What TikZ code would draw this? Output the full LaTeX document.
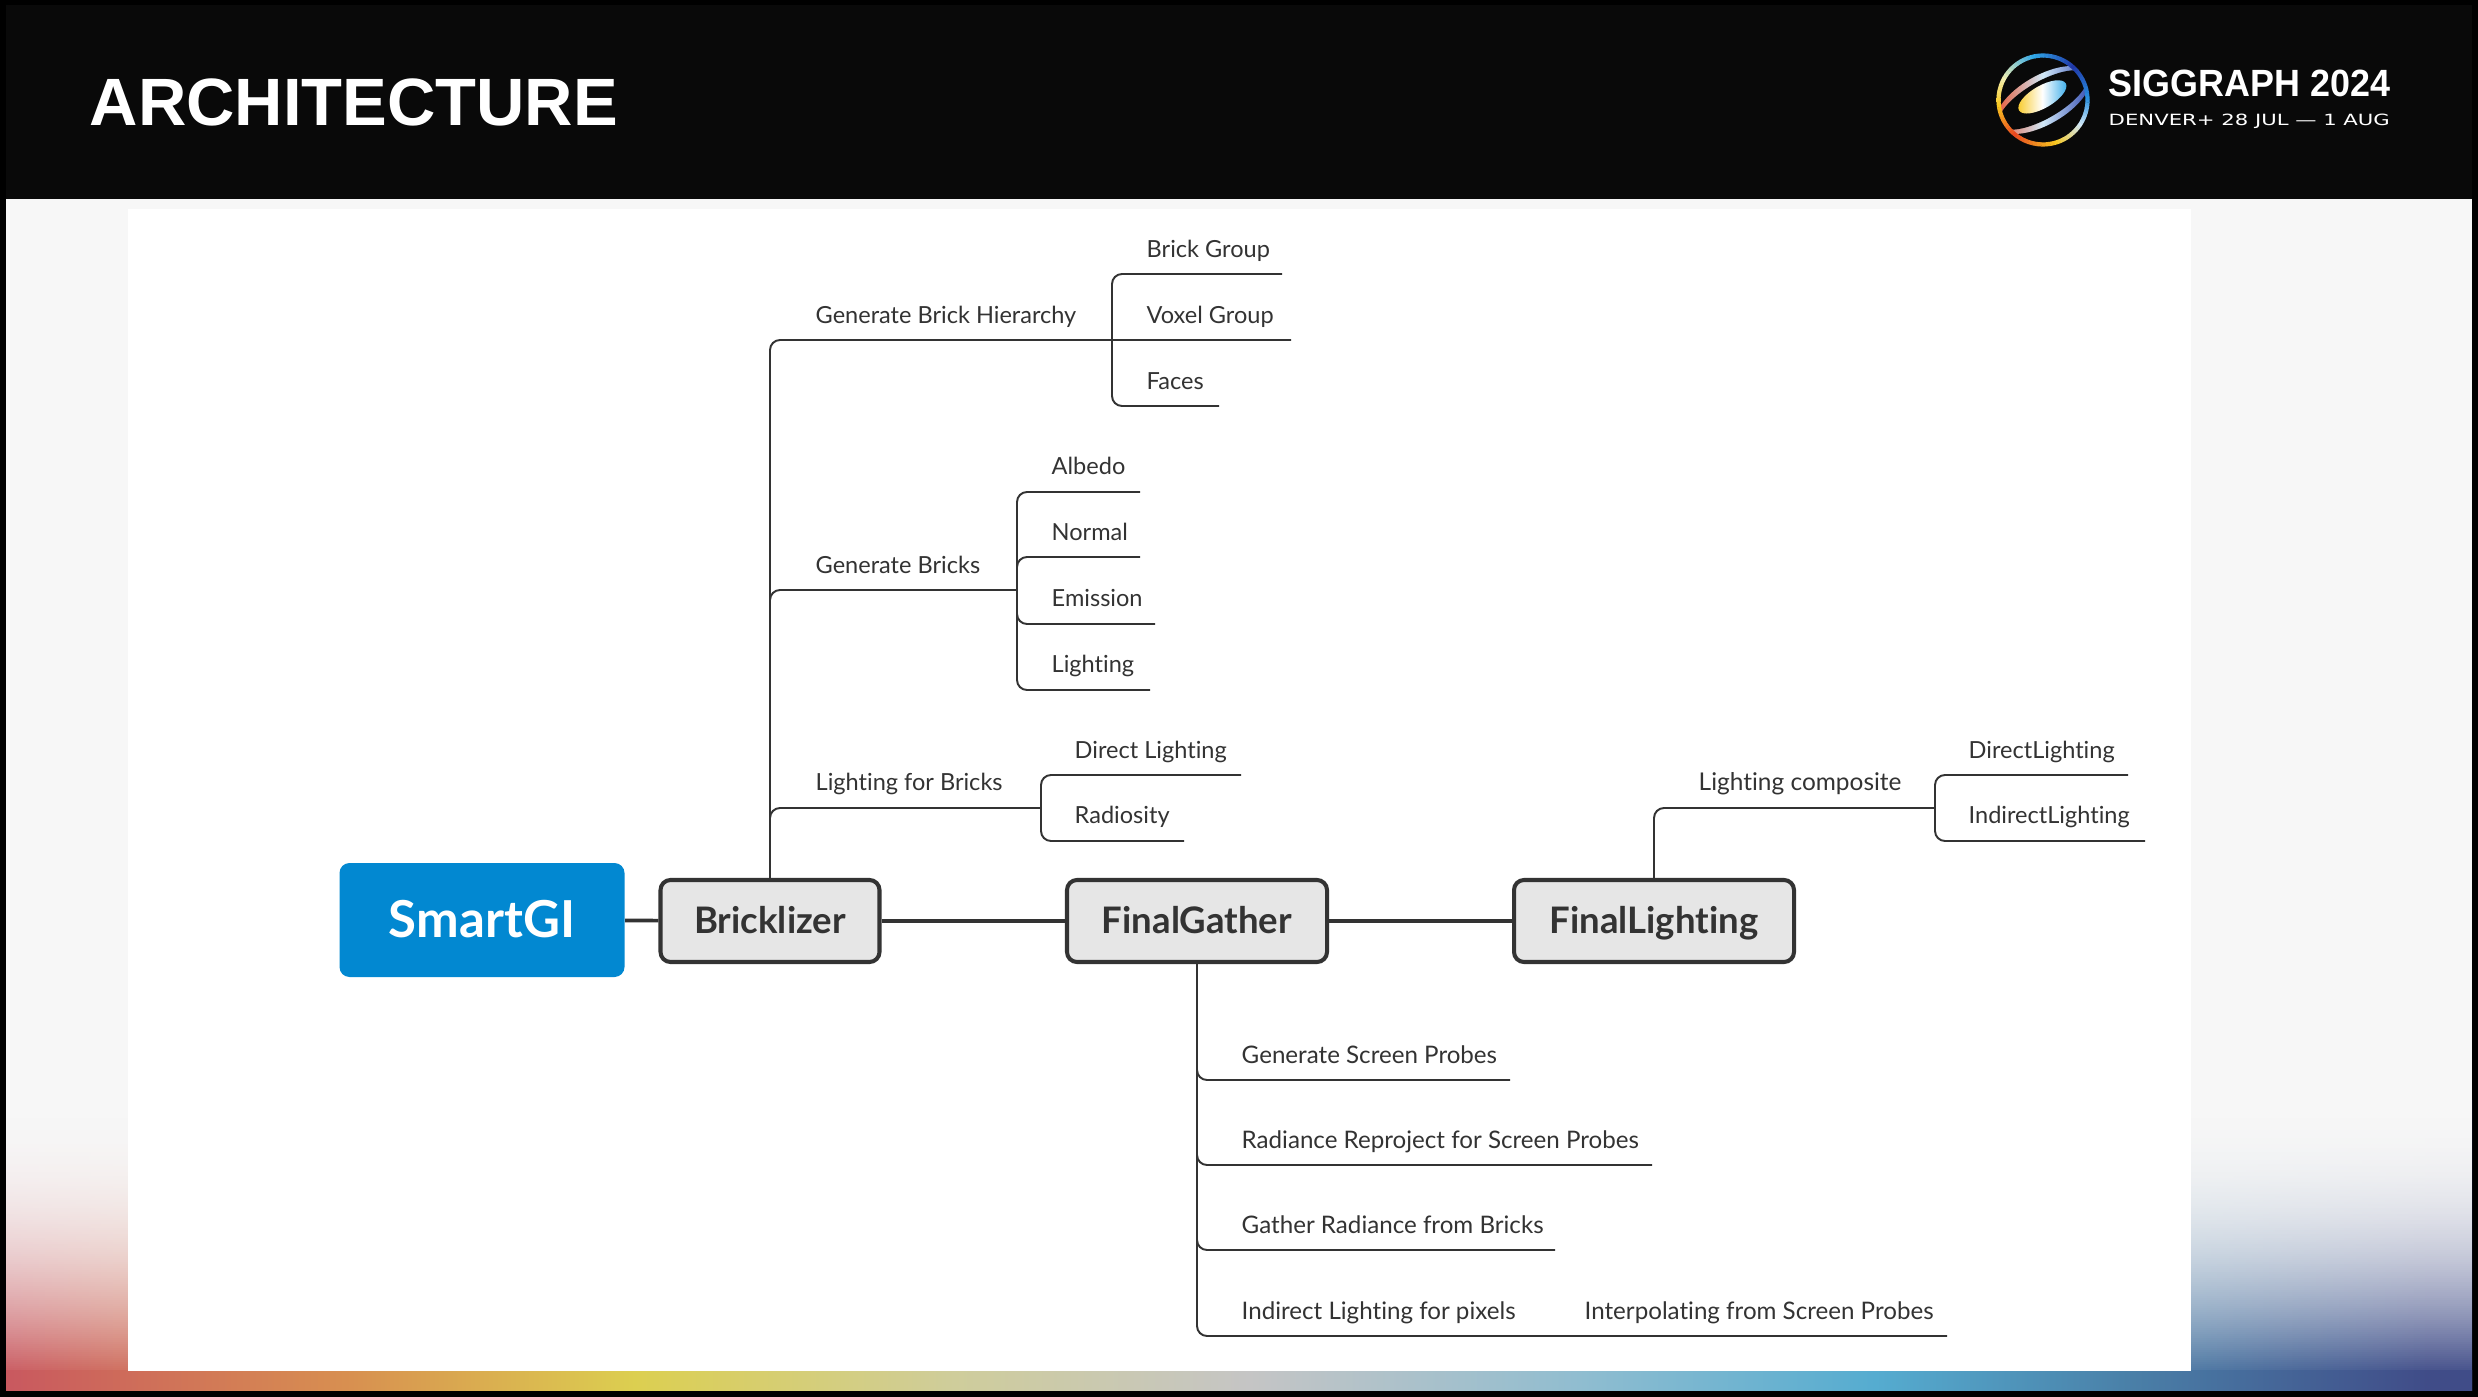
\documentclass[tikz,border=0pt]{standalone}
\usepackage{fontspec}
\usepackage{graphicx}
\setmainfont{Lato}[Ligatures=NoCommon]
\newfontfamily\headfont{Liberation Sans}
\newfontfamily\subfont{DejaVu Sans}
\definecolor{ink}{HTML}{333333}
\definecolor{sg}{HTML}{0288D1}
\definecolor{boxfill}{HTML}{E6E6E6}
\definecolor{paper}{HTML}{F7F7F7}
\definecolor{headbg}{HTML}{090909}
\definecolor{c0}{HTML}{C9595F}\definecolor{c1}{HTML}{D89050}\definecolor{c2}{HTML}{DCCF50}
\definecolor{c3}{HTML}{CFCD9A}\definecolor{c4}{HTML}{C5C5C5}\definecolor{c5}{HTML}{90BDD0}
\definecolor{c6}{HTML}{55ACD0}\definecolor{c7}{HTML}{4A80A8}\definecolor{c8}{HTML}{404C88}
\definecolor{lgblue}{HTML}{2038A8}\definecolor{lgcyan}{HTML}{30A8E8}\definecolor{lgpale}{HTML}{F4F0B0}
\definecolor{lgyel}{HTML}{F8C820}\definecolor{lgred}{HTML}{E84820}\definecolor{lgice}{HTML}{D0E8F8}
\definecolor{lgsky}{HTML}{2890E0}
\pgfdeclarehorizontalshading{stripshade}{100bp}{
 color(0bp)=(c0); color(25.1bp)=(c0); color(32bp)=(c1); color(37.75bp)=(c2);
 color(44.1bp)=(c3); color(50.2bp)=(c4); color(56.9bp)=(c5); color(62.9bp)=(c6);
 color(68bp)=(c7); color(74.1bp)=(c8); color(100bp)=(c8)}
\tikzset{
 thinline/.style={draw=ink,line width=0.55pt,rounded corners=1mm},
 mainline/.style={draw=ink,line width=1.05pt},
 topicbox/.style={draw=ink,fill=boxfill,line width=1.15pt,rounded corners=1mm,minimum height=8.2mm,inner sep=0pt,text=ink,text height=2.5mm,text depth=0mm,font=\fontsize{10.4pt}{12pt}\selectfont\bfseries},
 rootbox/.style={fill=sg,rounded corners=1mm,minimum height=11.4mm,minimum width=28.5mm,inner sep=0pt,text=white,text height=3.4mm,text depth=0mm,font=\fontsize{14.5pt}{16pt}\selectfont\bfseries},
 leaf/.style={anchor=base west,inner sep=0pt,yshift=-0.1mm,text=ink,font=\fontsize{6.7pt}{8pt}\selectfont},
 leafwide/.style={leaf,font=\fontsize{6.87pt}{8pt}\selectfont}
}
\begin{document}
\begin{tikzpicture}[x=0.1mm,y=-0.1mm]
\useasboundingbox (0,0) rectangle (2478,1397);
\fill[black] (0,0) rectangle (2478,1397);
\fill[headbg] (6,5) rectangle (2472,199);
\fill[paper] (6,199) rectangle (2472,1390);
% bottom colour band, with side panels fading upward
\shade[shading=stripshade] (6,1100) rectangle (2472,1390);
\foreach \yy in {1100,1102,...,1368}{
 \pgfmathsetmacro\tt{(\yy-1100)/275}
 \pgfmathsetmacro\op{1-pow(\tt,2.3)}
 \fill[paper,fill opacity=\op] (6,\yy) rectangle (2472,\yy+2);
}
\shade[shading=stripshade] (6,1370) rectangle (2472,1390);
\fill[white] (128,209) rectangle (2191,1371);
% header
\node[anchor=base west,inner sep=0pt,text=white,font=\headfont\bfseries\fontsize{19.05pt}{22pt}\selectfont] (title) at (89,126) {ARCHITECTURE};
\node[anchor=base west,inner sep=0pt,text=white,font=\headfont\bfseries\fontsize{10.8pt}{13pt}\selectfont] (sgtext) at (2108,97) {\scalebox{0.946}[1]{SIGGRAPH 2024}};
\node[anchor=base west,inner sep=0pt,text=white,font=\subfont\fontsize{4.4pt}{6pt}\selectfont] (dntext) at (2108,126) {\scalebox{1.37}[1]{DENVER+ 28 JUL — 1 AUG}};
% logo
\begin{scope}[shift={(2043,100)},x=0.1mm,y=0.1mm]
\clip (0,0) circle (4.4mm);
\begin{scope}[rotate=30]
\shade[left color=lgred,right color=lgblue,middle color=lgice] (0,0) ellipse (5.3mm and 2.45mm);
\fill[headbg] (0,0) ellipse (5.0mm and 1.85mm);
\shade[left color=lgyel,right color=lgcyan,middle color=white] (1,0.3mm) ellipse (2.7mm and 1.12mm);
\end{scope}
\end{scope}
\begin{scope}[shift={(2043,100)},x=0.1mm,y=0.1mm]
\foreach \a/\b/\ca/\cb in {45/100/lgblue/lgcyan,100/150/lgcyan/lgpale,150/185/lgpale/lgyel,185/228/lgyel/lgred,228/285/lgred/lgyel,285/325/lgyel/lgice,325/360/lgice/lgsky,360/405/lgsky/lgblue}{
 \foreach \t in {0,10,...,90}{
  \pgfmathsetmacro\an{\a+(\b-\a)*\t/100}
  \pgfmathsetmacro\st{(\b-\a)/10+0.5}
  \draw[line width=1.2pt,draw={\cb!\t!\ca}] (\an:4.45mm) arc[start angle=\an,delta angle=\st,radius=4.45mm];
 }
}
\end{scope}
% diagram nodes
\node[rootbox] (root) at (482,920) {SmartGI};
\node[topicbox,minimum width=21.9mm] (brick) at (770,921) {Bricklizer};
\node[topicbox,minimum width=26mm] (gather) at (1197,921) {FinalGather};
\node[topicbox,minimum width=28mm] (final) at (1654,921) {FinalLighting};
\draw[mainline] (root) -- (brick);
\draw[mainline] (brick) -- (gather);
\draw[mainline] (gather) -- (final);
% Bricklizer branches
\coordinate (hubA) at (1112,340);\coordinate (hubB) at (1017,590);\coordinate (hubC) at (1041,808);
\coordinate (eA1) at (1282,274);\coordinate (eA2) at (1291,340);\coordinate (eA3) at (1219,406);
\coordinate (eB1) at (1140,492);\coordinate (eB2) at (1140,557);\coordinate (eB3) at (1155,624);\coordinate (eB4) at (1150,690);
\coordinate (eC1) at (1241,775);\coordinate (eC2) at (1184,841);
\draw[thinline] (brick.north) |- (eA2);
\draw[thinline] (brick.north) |- (hubB);
\draw[thinline] (brick.north) |- (hubC);
\draw[thinline] (hubA) |- (eA1);
\draw[thinline] (hubA) |- (eA3);
\draw[thinline] (hubB) |- (eB1);
\draw[thinline] (hubB) |- (eB2);
\draw[thinline] (hubB) |- (eB3);
\draw[thinline] (hubB) |- (eB4);
\draw[thinline] (hubC) |- (eC1);
\draw[thinline] (hubC) |- (eC2);
\node[leaf] (lA) at (815,323) {Generate Brick Hierarchy};
\node[leaf] (lB) at (815,573) {Generate Bricks};
\node[leaf] (lC) at (815,790) {Lighting for Bricks};
\node[leaf] (lA1) at (1146,257) {Brick Group};
\node[leaf] (lA2) at (1146,323) {Voxel Group};
\node[leaf] (lA3) at (1146,389) {Faces};
\node[leaf] (lB1) at (1051,474) {Albedo};
\node[leaf] (lB2) at (1051,540) {Normal};
\node[leaf] (lB3) at (1051,606) {Emission};
\node[leaf] (lB4) at (1051,672) {Lighting};
\node[leaf] (lC1) at (1074,758) {Direct Lighting};
\node[leaf] (lC2) at (1074,823) {Radiosity};
% FinalGather branches
\coordinate (eG1) at (1510,1080);\coordinate (eG2) at (1652,1165);\coordinate (eG3) at (1555,1250);\coordinate (eG4) at (1947,1336);
\draw[thinline] (gather.south) |- (eG1);
\draw[thinline] (gather.south) |- (eG2);
\draw[thinline] (gather.south) |- (eG3);
\draw[thinline] (gather.south) |- (eG4);
\node[leafwide] (g1) at (1241,1062) {Generate Screen Probes};
\node[leafwide] (g2) at (1241,1147) {Radiance Reproject for Screen Probes};
\node[leafwide] (g3) at (1241,1232) {Gather Radiance from Bricks};
\node[leafwide] (g4) at (1241,1318) {Indirect Lighting for pixels};
\node[leafwide] (g5) at (1584,1318) {Interpolating from Screen Probes};
% FinalLighting branches
\coordinate (hubF) at (1935,808);\coordinate (eF1) at (2128,775);\coordinate (eF2) at (2145,841);
\draw[thinline] (final.north) |- (hubF);
\draw[thinline] (hubF) |- (eF1);
\draw[thinline] (hubF) |- (eF2);
\node[leafwide,font=\fontsize{6.95pt}{8pt}\selectfont] (f0) at (1698,790) {Lighting composite};
\node[leaf] (f1) at (1968,758) {DirectLighting};
\node[leaf] (f2) at (1968,823) {IndirectLighting};
\end{tikzpicture}
\end{document}
